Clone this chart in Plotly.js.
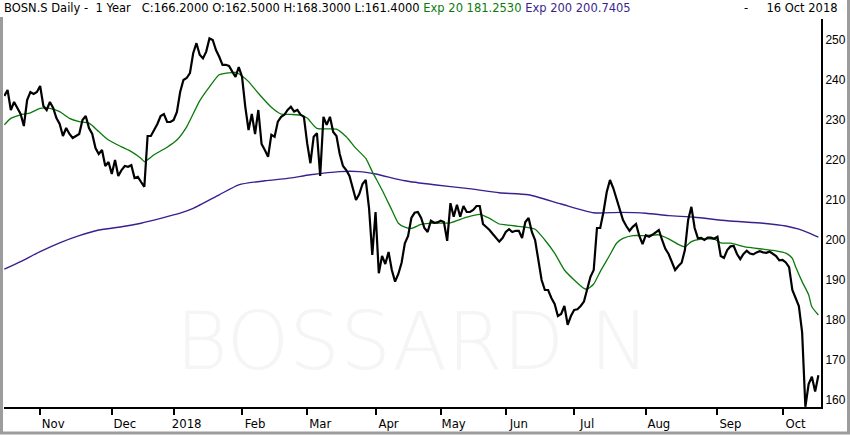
<!DOCTYPE html>
<html>
<head>
<meta charset="utf-8">
<script src="https://cdn.plot.ly/plotly-3.0.1.min.js"></script>
<style>
html,body{margin:0;padding:0;background:#fff;}
#chart{width:850px;height:435px;}
</style>
</head>
<body>
<div id="chart"></div>
<script>
// ---- data ----
const startDate = '2017-10-17';
const endDate = '2018-10-16';
const holidays = ['2017-12-25','2017-12-26','2018-01-01','2018-01-02','2018-03-30',
  '2018-04-02','2018-05-01','2018-05-10','2018-05-21','2018-08-01'];

const close = [
236,237.5,232.5,234.5,233,231.5,228.5,235,237,236.5,
237,238.5,233.5,232.5,234.5,233,230.5,229,226,228,
226.5,225.5,226,226.5,230,231,228,226.5,223,221.5,
222.5,218.5,219.5,216.5,220,216,217.5,218.5,218.3,218.7,
215.5,215.8,214.5,213.3,226,226,227.5,229,231,231.5,
229.5,229.5,230,232,237,240,240.5,241.7,246.7,249.2,
246.3,245.4,247.1,250.4,250,247.5,245.8,243.8,243.8,243.5,
242.1,240.8,243.2,240.8,233.3,227.5,231.5,226.5,232.5,224,
222.5,220.8,226.3,225.8,229.6,230.8,231.3,232.5,233.3,232.1,
232.5,231.3,230.8,224.2,219.2,225.8,226.7,216,230.8,228.8,
230.8,227,226,221.5,218.5,217.5,216,213,210,211.5,
214,215,208,196.3,207,191.7,196,194,197,192.5,
189.6,191.5,194.3,199.2,201,205.5,206.8,207,205.5,203,
202,204.8,204.3,204.4,204.8,204.5,199.8,209.2,205.8,208.8,
205.8,208.5,207,207,207.5,208.5,208.5,204,203.3,202.5,
201.5,200.5,199.6,200.5,202,202.7,202,202.3,202.3,200.5,
204.5,205.5,202,200,195,190,187.5,187.5,185.5,184,
181,181.5,183.5,178.8,181,182.5,182.7,183.5,184.6,187.5,
190.8,192.5,203,203,207,212,215,213,210.3,208,
205,203.5,202.3,203.3,204,201,199,201.2,200.8,201.3,
202,202.5,200,197.8,196.5,194.3,192.5,193.5,194.3,197.5,
205,208.3,203,200.4,200.5,200,200.6,200.6,200.3,200.8,
196,195.5,197.5,198.4,198.5,196.5,195.2,196.5,197.3,196.6,
196.4,196.9,197.2,196.9,196.8,197.1,196.6,196,194.9,195,
194.4,193.2,187.5,185.7,183.5,177,158.3,164,165.8,162.1,
166.2];

// Exp 20 moving average, read at sampled trading-day numbers
const ema20Day = [0,2,5,8,11,14,17,20,23,26,29,32,36,39,42,43,46,50,53,56,60,63,66,69,71,73,75,78,82,85,88,91,93,96,102,105,108,111,113,116,119,121,123,125,128,132,137,142,146,149,152,154,157,160,163,166,169,172,175,178,179,181,183,186,188,190,193,197,201,204,207,209,211,214,218,220,223,228,233,237,240,242,243,245,247,248,250];
const ema20Val = [228.8,230.4,231.3,231.8,232.9,232.9,232.1,230.4,229.6,229.2,227.1,225.0,223.3,222.1,220.4,219.6,221.3,223.2,225.0,228.3,234.8,238.3,241.3,241.8,241.9,241.0,239.6,236.7,233.2,231.5,231.4,231.2,230.5,227.9,227.7,225.8,222.9,220.4,217.1,212.5,207.5,204.2,203.2,202.9,203.9,204.2,204.3,205.7,206.4,205.4,204.0,203.8,203.5,203.2,202.7,200.0,196.7,192.5,190.0,187.9,187.7,189.0,192.1,196.3,199.2,200.4,201.1,201.1,201.3,200.3,198.9,198.3,199.6,200.2,200.2,199.3,199.2,198.2,197.7,197.3,196.7,195.4,193.3,189.6,186.3,183.3,181.25];

// Exp 200 moving average, read at sampled trading-day numbers
const ema200Day = [0,5,11,17,23,29,36,42,48,54,58,66,72,80,87,94,103,109,114,123,132,142,152,161,171,181,189,197,204,212,222,233,240,244,247,250];
const ema200Val = [192.7,194.6,197.1,199.3,201.1,202.5,203.3,204.2,205.4,206.7,207.9,211.3,213.8,214.8,215.4,216.3,217.1,217.1,216.5,214.8,213.8,212.9,211.8,211.3,209.0,206.8,206.9,206.7,206.1,205.7,204.8,204.2,203.5,202.7,201.8,200.74];

const monthNames = ['Jan','Feb','Mar','Apr','May','Jun','Jul','Aug','Sep','Oct','Nov','Dec'];
const yTicks = [160,170,180,190,200,210,220,230,240,250];

const headerText = 'BOSN.S Daily -\u00a0 1 Year\u00a0\u00a0 C:166.2000 O:162.5000 H:168.3000 L:161.4000 ' +
  '<span style="color:#0b7a0b">Exp 20 181.2530</span> ' +
  '<span style="color:#3a1f8f">Exp 200 200.7405</span>';
const dateText = '-\u00a0\u00a0\u00a0\u00a0 16 Oct 2018';
const watermark = 'BOSSARD N';

// ---- trading-day calendar ----
function fmt(d){const m=d.getUTCMonth()+1, dd=d.getUTCDate();return d.getUTCFullYear()+'-'+(m<10?'0':'')+m+'-'+(dd<10?'0':'')+dd;}
const dates = [];
for (let d = new Date(startDate+'T00:00:00Z'); fmt(d) <= endDate; d.setUTCDate(d.getUTCDate()+1)) {
  const wd = d.getUTCDay();
  const s = fmt(d);
  if (wd === 0 || wd === 6 || holidays.includes(s)) continue;
  dates.push(s);
}
const tickvals = [], ticktext = [];
for (let i = 1; i < dates.length; i++) {
  if (dates[i].slice(5,7) !== dates[i-1].slice(5,7)) {
    tickvals.push(dates[i]);
    const mi = parseInt(dates[i].slice(5,7),10)-1;
    ticktext.push(mi === 0 ? dates[i].slice(0,4) : monthNames[mi]);
  }
}

const axisFont = {family:'"Liberation Sans Narrow","DejaVu Sans Condensed","Liberation Sans",sans-serif', size:13, color:'#000'};

const traces = [
  {x: dates, y: close, type:'scatter', mode:'lines',
   line:{color:'#000', width:2.2}, hoverinfo:'skip'},
  {x: ema200Day.map(i=>dates[i]), y: ema200Val, type:'scatter', mode:'lines',
   line:{color:'#3a1f8f', width:1.4, shape:'spline', smoothing:0.6}, hoverinfo:'skip'},
  {x: ema20Day.map(i=>dates[i]), y: ema20Val, type:'scatter', mode:'lines',
   line:{color:'#0b7a0b', width:1.3, shape:'spline', smoothing:0.6}, hoverinfo:'skip'}
];
// keep the price line on top
traces.push(traces.shift());

const layout = {
  width:850, height:435,
  margin:{l:4, r:29, t:19, b:28},
  paper_bgcolor:'#fff', plot_bgcolor:'#fff',
  showlegend:false,
  xaxis:{type:'category', categoryorder:'array', categoryarray:dates,
    range:[-0.1, 250.8], tickvals:tickvals, ticktext:ticktext,
    ticks:'outside', ticklen:6, tickwidth:2, tickcolor:'#000',
    showline:true, linewidth:2, linecolor:'#000', showgrid:false, zeroline:false,
    tickfont:axisFont, ticklabelshift:13, ticklabelstandoff:-3, automargin:false, fixedrange:true},
  yaxis:{side:'right', range:[158.25, 255.25], tickvals:yTicks, ticktext:yTicks.map(String),
    ticks:'', showline:true, linewidth:2, linecolor:'#000', showgrid:false, zeroline:false,
    tickfont:{family:'"Liberation Sans","DejaVu Sans",sans-serif', size:12, color:'#000'},
    automargin:false, fixedrange:true},
  annotations:[
    {xref:'paper', yref:'paper', x:0, y:1, xanchor:'left', yanchor:'bottom', xshift:-2, yshift:2,
     text:headerText, showarrow:false, align:'left',
     font:{family:'"DejaVu Sans",sans-serif', size:11.5, color:'#000'}},
    {xref:'paper', yref:'paper', x:(840-4)/817, y:1, xanchor:'right', yanchor:'bottom', yshift:2,
     text:dateText, showarrow:false,
     font:{family:'"DejaVu Sans",sans-serif', size:11.5, color:'#000'}}
  ],
  shapes:[
    {type:'rect', xref:'paper', yref:'paper', x0:(188-4)/817, x1:(637-4)/817, y0:(407-365)/388, y1:(407-305)/388,
     layer:'below', line:{width:0}, fillcolor:'rgba(0,0,0,0)',
     label:{text:watermark, textposition:'middle center',
       font:{family:'"DejaVu Sans ExtraLight","DejaVu Sans",sans-serif', weight:200, size:80, color:'#f5f5f5'}}},
    {type:'line', xref:'paper', yref:'paper', x0:(1.5-4)/817, x1:(1.5-4)/817, y0:(407-17)/388, y1:(407-434)/388,
     line:{color:'#9c9c9c', width:3}},
    {type:'line', xref:'paper', yref:'paper', x0:(848.5-4)/817, x1:(848.5-4)/817, y0:(407-0)/388, y1:(407-434)/388,
     line:{color:'#9c9c9c', width:3}},
    {type:'line', xref:'paper', yref:'paper', x0:(0-4)/817, x1:(850-4)/817, y0:(407-433)/388, y1:(407-433)/388,
     line:{color:'#9c9c9c', width:3}}
  ]
};

Plotly.newPlot('chart', traces, layout, {displayModeBar:false, staticPlot:true});
</script>
</body>
</html>
